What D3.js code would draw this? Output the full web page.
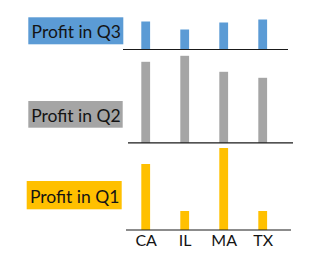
<!DOCTYPE html>
<html>
<head>
<meta charset="utf-8">
<script src="https://cdn.jsdelivr.net/npm/d3@7"></script>
<style>
  html, body { margin: 0; padding: 0; background: #fff; }
  svg { display: block; }
  text { font-family: Lato, "Open Sans", sans-serif; fill: #141414; }
</style>
</head>
<body>
<svg id="chart" width="319" height="259"></svg>
<script>
// ---- data ----
const categories = ["CA", "IL", "MA", "TX"];
const seriesNames = ["Profit in Q3", "Profit in Q2", "Profit in Q1"];
const profitQ3 = [28, 20, 27, 30];
const profitQ2 = [81, 87, 71, 65];
const profitQ1 = [66, 19, 82, 19];
const seriesColors = ["#5B9BD5", "#A5A5A5", "#FFC000"];

// ---- layout ----
const svg = d3.select("#chart");
const panels = [
  { name: seriesNames[0], values: profitQ3, color: seriesColors[0], base: 49.5, lineX: [123, 288], box: [28.3, 17.3, 95, 27], textY: 38 },
  { name: seriesNames[1], values: profitQ2, color: seriesColors[1], base: 142.8, lineX: [128, 293], box: [28.3, 101, 94.4, 26.7], textY: 121.7 },
  { name: seriesNames[2], values: profitQ1, color: seriesColors[2], base: 230, lineX: [126, 291], box: [26.7, 181, 95, 28.3], textY: 203 }
];

const x = d3.scalePoint().domain(categories).range([145.7, 262.7]);
const h = d3.scaleLinear().domain([0, 100]).range([0, 100]);
const barW = 8.8;

panels.forEach(p => {
  const g = svg.append("g");
  g.selectAll("rect.bar")
    .data(categories.map((c, i) => ({ c, v: p.values[i] })))
    .join("rect")
    .attr("class", "bar")
    .attr("x", d => x(d.c) - barW / 2)
    .attr("y", d => p.base - h(d.v))
    .attr("width", barW)
    .attr("height", d => h(d.v))
    .attr("fill", p.color);
  g.append("line")
    .attr("x1", p.lineX[0]).attr("x2", p.lineX[1])
    .attr("y1", p.base).attr("y2", p.base)
    .attr("stroke", "#1a1a1a").attr("stroke-width", 1.2);
  g.append("rect")
    .attr("x", p.box[0]).attr("y", p.box[1])
    .attr("width", p.box[2]).attr("height", p.box[3])
    .attr("fill", p.color);
  g.append("text")
    .attr("x", p.box[0] + p.box[2] / 2 + 0.5)
    .attr("y", p.textY)
    .attr("text-anchor", "middle")
    .attr("font-size", 17.5)
    .text(p.name);
});

const axis = d3.axisBottom(x).tickSize(0).tickPadding(0);
const ag = svg.append("g").attr("transform", "translate(0,234.5)").call(axis);
ag.select(".domain").remove();
ag.selectAll("text")
  .attr("dy", "0.71em")
  .attr("y", 0)
  .style("font-family", "Lato, 'Open Sans', sans-serif")
  .style("font-size", "16px")
  .style("fill", "#141414");
</script>
</body>
</html>
